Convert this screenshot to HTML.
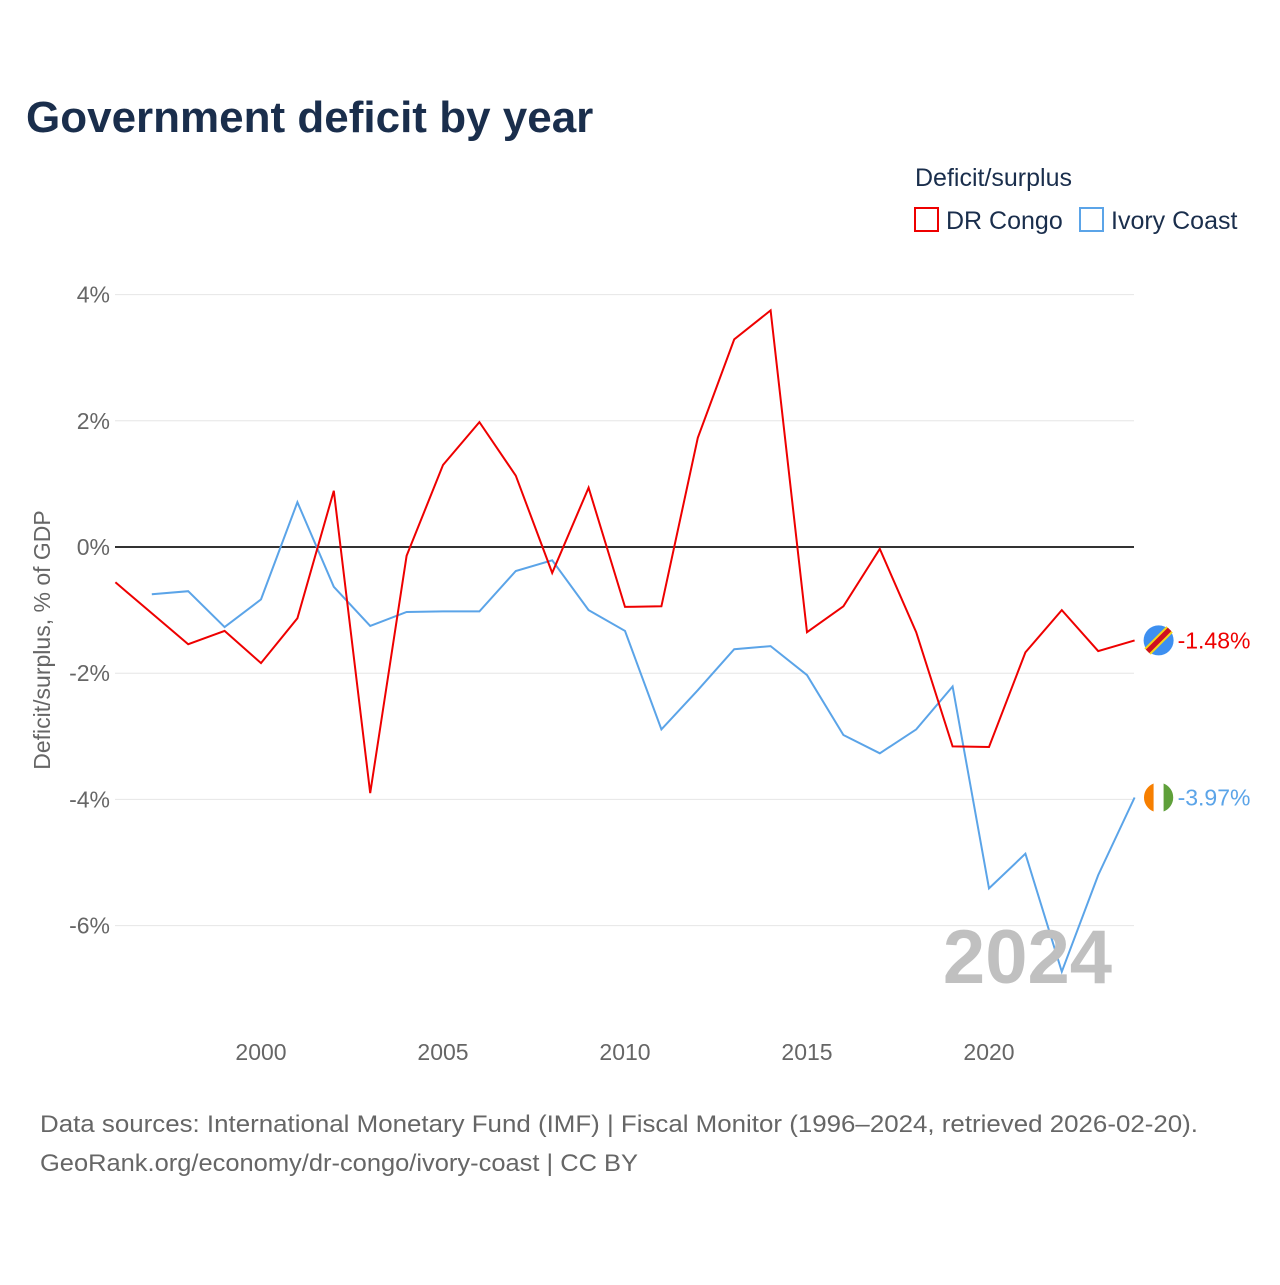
<!DOCTYPE html>
<html><head><meta charset="utf-8"><style>
body{margin:0;background:#fff;font-family:"Liberation Sans",sans-serif}
svg text{font-family:"Liberation Sans",sans-serif}
</style></head><body>
<svg id="c" width="1280" height="1280" xmlns="http://www.w3.org/2000/svg">
<text x="26" y="132" font-size="44" font-weight="bold" fill="#1a2e4c">Government deficit by year</text>
<text x="915" y="186" font-size="25" fill="#1a2e4c">Deficit/surplus</text>
<g><rect x="915" y="208" width="23" height="23" fill="none" stroke="#ee0000" stroke-width="2"/><text x="946" y="229" font-size="25" fill="#1a2e4c">DR Congo</text></g>
<g><rect x="1080" y="208" width="23" height="23" fill="none" stroke="#5ba4e8" stroke-width="2"/><text x="1111" y="229" font-size="25" fill="#1a2e4c">Ivory Coast</text></g>
<g id="grid"></g><g id="series"></g>
<text x="1112" y="983" font-size="76" font-weight="bold" fill="#c0c0c0" text-anchor="end">2024</text>
<text transform="translate(50,640) rotate(-90)" font-size="23" fill="#666" text-anchor="middle">Deficit/surplus, % of GDP</text>
<text x="40" y="1132" font-size="24" fill="#666" textLength="1158" lengthAdjust="spacingAndGlyphs">Data sources: International Monetary Fund (IMF) | Fiscal Monitor (1996–2024, retrieved 2026-02-20).</text>
<text x="40" y="1171" font-size="24" fill="#666" textLength="598" lengthAdjust="spacingAndGlyphs">GeoRank.org/economy/dr-congo/ivory-coast | CC BY</text>
</svg>
<script>
const years=[1996,1997,1998,1999,2000,2001,2002,2003,2004,2005,2006,2007,2008,2009,2010,2011,2012,2013,2014,2015,2016,2017,2018,2019,2020,2021,2022,2023,2024];
const drCongo=[-0.56,-1.05,-1.54,-1.33,-1.84,-1.13,0.89,-3.9,-0.14,1.3,1.98,1.13,-0.41,0.94,-0.95,-0.94,1.73,3.29,3.75,-1.35,-0.94,-0.03,-1.35,-3.16,-3.17,-1.67,-1.0,-1.65,-1.48];
const ivoryCoast=[null,-0.75,-0.7,-1.27,-0.83,0.71,-0.63,-1.25,-1.03,-1.02,-1.02,-0.38,-0.21,-1.0,-1.33,-2.89,-2.27,-1.62,-1.57,-2.03,-2.98,-3.27,-2.89,-2.21,-5.41,-4.86,-6.73,-5.2,-3.97];
const yTicks=[4,2,0,-2,-4,-6];
const xTicks=[2000,2005,2010,2015,2020];
const X=y=>115.4+(y-1996)*36.4;
const Y=v=>547-v*63.1;
const NS="http://www.w3.org/2000/svg";
function mk(t,a,p){const e=document.createElementNS(NS,t);for(const k in a)e.setAttribute(k,a[k]);p.appendChild(e);return e;}
const g=document.getElementById('grid'),s=document.getElementById('series');
yTicks.forEach(v=>{
 const l=mk('line',{x1:115,x2:1134,y1:Y(v),y2:Y(v),stroke:v===0?'#333':'#e6e6e6','stroke-width':v===0?2:1},g);
 
 
 const t=mk('text',{x:110,y:Y(v)+8,'font-size':23,fill:'#666','text-anchor':'end'},g);t.textContent=v+'%';
 
 
});
xTicks.forEach(v=>{
 const t=mk('text',{x:X(v),y:1060,'font-size':23,fill:'#666','text-anchor':'middle'},g);t.textContent=v;
 
 
});
function line(vals,col,name,label,flag){
 let d='';vals.forEach((v,i)=>{if(v===null)return;d+=(d?'L':'M')+X(years[i]).toFixed(1)+','+Y(v).toFixed(1);});
 const p=mk('path',{d:d,fill:'none',stroke:col,'stroke-width':2},s);
 
 
 const lv=vals[vals.length-1],cx=X(years[years.length-1])+24,cy=Y(lv);
 const c=mk('g',{},s);
 
 
 if(flag==='cd'){mk('circle',{cx:cx,cy:cy,r:15,fill:'#3d8ff0'},c);mk('line',{x1:cx-11,y1:cy+11,x2:cx+11,y2:cy-11,stroke:'#f7d618','stroke-width':9},c);mk('line',{x1:cx-11,y1:cy+11,x2:cx+11,y2:cy-11,stroke:'#ce1021','stroke-width':5},c);}
 else{mk('circle',{cx:cx,cy:cy,r:15,fill:'#fff'},c);mk('path',{d:`M${cx-5},${cy-14}A15,15 0 0 0 ${cx-5},${cy+14}Z`,fill:'#f77f00'},c);mk('path',{d:`M${cx+5},${cy-14}A15,15 0 0 1 ${cx+5},${cy+14}Z`,fill:'#5fa03a'},c);}
 const t=mk('text',{x:cx+19,y:cy+8,'font-size':23,fill:col},s);t.textContent=label;
 
 
}
line(ivoryCoast,'#5ba4e8','ivory-coast','-3.97%','ci');
line(drCongo,'#ee0000','dr-congo','-1.48%','cd');
</script>
</body></html>
